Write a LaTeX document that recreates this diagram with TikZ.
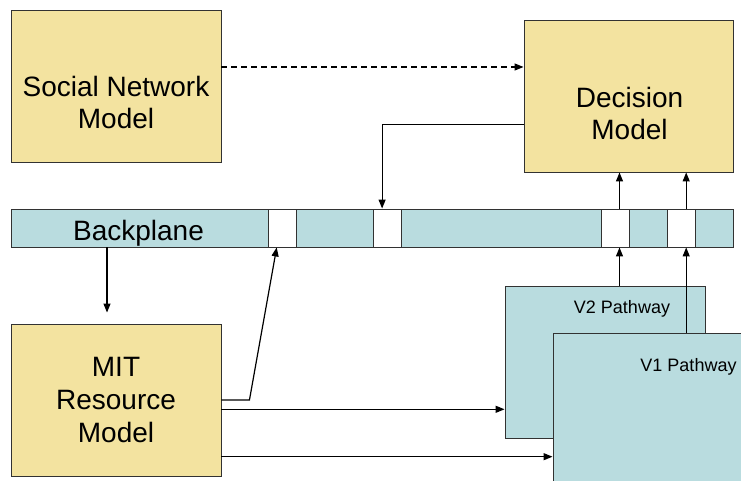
\documentclass[tikz,border=0pt]{standalone}
\usepackage{fontspec}
\setmainfont{Liberation Sans}
\usetikzlibrary{arrows.meta}
\definecolor{ybox}{RGB}{243,227,160}
\definecolor{bbox}{RGB}{185,220,223}
\definecolor{edge}{RGB}{50,50,50}
\tikzset{
  boxbase/.style={draw=edge, line width=0.9pt, inner sep=0pt, rectangle},
  yellowbox/.style={boxbase, fill=ybox},
  bluebox/.style={boxbase, fill=bbox},
  slotbox/.style={boxbase, fill=white, minimum width=28pt, minimum height=38pt},
  bigtext/.style={font=\fontsize{28}{32.8}\selectfont, align=center, inner sep=0pt},
  smalltext/.style={font=\fontsize{18}{21}\selectfont, inner sep=0pt, anchor=base},
  arr/.style={line width=1.2pt, -{Triangle[length=9pt,width=7pt]}},
  plain/.style={line width=1.2pt}
}
\begin{document}
\begin{tikzpicture}[x=1pt,y=1pt]
\clip (0,0) rectangle (741,481);
\fill[white] (0,0) rectangle (741,481);
% boxes
\node[yellowbox, minimum width=210pt, minimum height=152pt] (social) at (116,395) {};
\node[yellowbox, minimum width=209pt, minimum height=152pt] (decision) at (628.5,385) {};
\node[bluebox, minimum width=722pt, minimum height=38pt] (backplane) at (372,253) {};
\node[slotbox] (slot1) at (282.5,253) {};
\node[slotbox] (slot2) at (387,253) {};
\node[slotbox] (slot3) at (615,253) {};
\node[slotbox] (slot4) at (681.5,253) {};
\node[yellowbox, minimum width=210pt, minimum height=152pt] (mit) at (116,81) {};
\node[bluebox, minimum width=200pt, minimum height=152pt] (v2) at (605,119) {};
\node[bluebox, minimum width=207pt, minimum height=167pt] (v1) at (656.5,64.5) {};
% labels
\node[bigtext] (socialtext) at (116,378.5) {Social Network\\Model};
\node[bigtext] (decisiontext) at (629.5,367.5) {Decision\\Model};
\node[bigtext] (mittext) at (116,81) {MIT\\Resource\\Model};
\node[font=\fontsize{28}{32}\selectfont, inner sep=0pt, anchor=base] (bptext) at (138.5,240.5) {Backplane};
\node[smalltext] (v2text) at (622,167) {V2 Pathway};
\node[smalltext] (v1text) at (688.5,109.5) {V1 Pathway};
% connectors
\draw[arr, dashed, dash pattern=on 6pt off 4pt] ([yshift=19pt]social.east) -- ([yshift=19pt]social.east -| decision.west);
\draw[arr] ([yshift=-28.7pt]decision.west) -| ([xshift=-4.9pt]slot2.north);
\draw[arr] ([xshift=4.5pt]slot3.north) -- ([xshift=4.5pt]slot3.north |- decision.south);
\draw[arr] ([xshift=4.7pt]slot4.north) -- ([xshift=4.7pt]slot4.north |- decision.south);
\draw[arr] ([xshift=-9pt]mit.north |- backplane.south) -- ([xshift=-9pt,yshift=11pt]mit.north);
\draw[arr] (mit.east) -- ([xshift=28pt]mit.east) -- ([xshift=-5.8pt]slot1.south);
\draw[arr] ([yshift=-9.3pt]mit.east) -- ([yshift=-9.3pt]mit.east -| v2.west);
\draw[arr] ([yshift=-56.7pt]mit.east) -- ([yshift=-56.7pt]mit.east -| v1.west);
\draw[arr] ([xshift=4.5pt]slot3.south |- v2.north) -- ([xshift=4.5pt]slot3.south);
\draw[arr] ([xshift=4.7pt]slot4.south |- v1.north) -- ([xshift=4.7pt]slot4.south);
\end{tikzpicture}
\end{document}
